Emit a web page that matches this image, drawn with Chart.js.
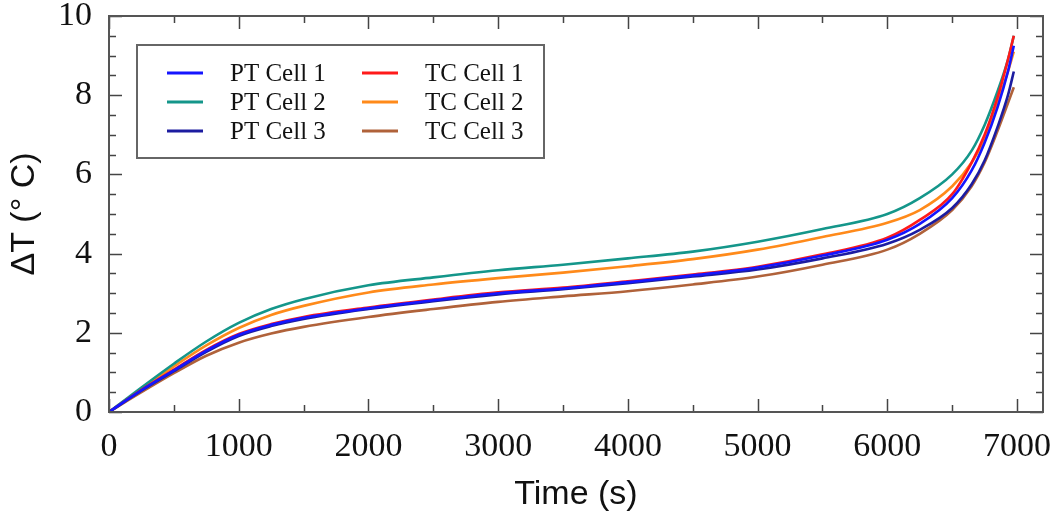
<!DOCTYPE html>
<html>
<head>
<meta charset="utf-8">
<script src="https://cdn.jsdelivr.net/npm/chart.js@4/dist/chart.umd.min.js"></script>
<style>
  html, body { margin: 0; padding: 0; background: #ffffff; }
  #wrap { width: 1059px; height: 513px; }
</style>
</head>
<body>
<div id="wrap"><canvas id="c" width="1059" height="513"></canvas></div>
<script>
// ---- data ----
const times = [0, 250, 500, 750, 1000, 1250, 1500, 2000, 2500, 3000, 3500, 4000, 4500, 5000, 5500, 6000, 6250, 6500, 6650, 6750, 6850, 6930, 6975];
const ptCell1 = [0, 0.55, 1.05, 1.55, 1.95, 2.20, 2.38, 2.62, 2.82, 3.00, 3.12, 3.28, 3.45, 3.65, 3.95, 4.35, 4.75, 5.40, 6.10, 6.80, 7.70, 8.60, 9.25];
const ptCell2 = [0, 0.62, 1.22, 1.78, 2.25, 2.60, 2.85, 3.20, 3.40, 3.58, 3.72, 3.88, 4.05, 4.30, 4.62, 5.00, 5.40, 6.00, 6.60, 7.25, 8.10, 8.90, 9.50];
const ptCell3 = [0, 0.54, 1.03, 1.52, 1.92, 2.17, 2.35, 2.60, 2.80, 2.97, 3.10, 3.25, 3.42, 3.60, 3.88, 4.25, 4.60, 5.15, 5.75, 6.35, 7.20, 8.00, 8.60];
const tcCell1 = [0, 0.56, 1.07, 1.57, 1.97, 2.22, 2.40, 2.64, 2.84, 3.02, 3.14, 3.30, 3.47, 3.67, 3.98, 4.40, 4.85, 5.50, 6.30, 7.00, 7.95, 8.90, 9.50];
const tcCell2 = [0, 0.58, 1.15, 1.68, 2.12, 2.45, 2.68, 3.02, 3.22, 3.38, 3.52, 3.68, 3.86, 4.10, 4.42, 4.78, 5.10, 5.70, 6.30, 6.90, 7.80, 8.60, 9.10];
const tcCell3 = [0, 0.50, 0.98, 1.42, 1.75, 1.98, 2.15, 2.40, 2.60, 2.78, 2.92, 3.05, 3.22, 3.42, 3.72, 4.10, 4.50, 5.10, 5.70, 6.30, 7.10, 7.80, 8.20];

const seriesLabels = ["PT Cell 1", "PT Cell 2", "PT Cell 3", "TC Cell 1", "TC Cell 2", "TC Cell 3"];
const seriesColors = ["#1515ff", "#14968a", "#1c1ca0", "#ff1a1a", "#ff8a1a", "#b0623a"];
const seriesValues = [ptCell1, ptCell2, ptCell3, tcCell1, tcCell2, tcCell3];
const drawOrder = [1, 4, 2, 3, 5, 6];

const xMajorTicks = [0, 1000, 2000, 3000, 4000, 5000, 6000, 7000];
const yMajorTicks = [0, 2, 4, 6, 8, 10];

const xTitle = "Time (s)";
const yTitle = "\u0394T (\u00B0 C)";

// ---- build datasets ----
const datasets = seriesLabels.map((lab, i) => ({
  label: lab,
  data: times.map((t, k) => ({ x: t, y: seriesValues[i][k] })),
  borderColor: seriesColors[i],
  backgroundColor: seriesColors[i],
  borderWidth: 2.6,
  pointRadius: 0,
  fill: false,
  cubicInterpolationMode: 'monotone',
  order: drawOrder[i]
}));

const SERIF = "'Liberation Serif', 'Times New Roman', serif";
const SANS = "'Liberation Sans', Arial, sans-serif";

// frame, inward ticks (major + minor) on all four sides, and boxed legend
const framePlugin = {
  id: 'framePlugin',
  afterDraw(chart) {
    const ctx = chart.ctx;
    const a = chart.chartArea;
    const xs = chart.scales.x, ys = chart.scales.y;
    ctx.save();
    ctx.strokeStyle = '#444';
    ctx.lineWidth = 1.5;
    const MAJ = 13, MIN = 7;
    for (let v = 0; v <= xs.max; v += 500) {
      const px = Math.round(xs.getPixelForValue(v)) + 0.5;
      const len = (v % 1000 === 0) ? MAJ : MIN;
      ctx.beginPath();
      ctx.moveTo(px, a.bottom); ctx.lineTo(px, a.bottom - len);
      ctx.moveTo(px, a.top); ctx.lineTo(px, a.top + len);
      ctx.stroke();
    }
    for (let v = 0; v <= ys.max + 1e-9; v += 0.5) {
      const py = Math.round(ys.getPixelForValue(v)) + 0.5;
      const len = (Math.abs(v % 2) < 1e-9) ? MAJ : MIN;
      ctx.beginPath();
      ctx.moveTo(a.left, py); ctx.lineTo(a.left + len, py);
      ctx.moveTo(a.right, py); ctx.lineTo(a.right - len, py);
      ctx.stroke();
    }
    ctx.strokeStyle = '#555';
    ctx.lineWidth = 2;
    ctx.strokeRect(a.left, a.top, a.right - a.left, a.bottom - a.top);

    // legend box
    const bx = a.left + 28, by = a.top + 29, bw = 407, bh = 113;
    ctx.fillStyle = '#fff';
    ctx.fillRect(bx, by, bw, bh);
    ctx.strokeStyle = '#666';
    ctx.lineWidth = 2;
    ctx.strokeRect(bx, by, bw, bh);
    ctx.font = '25px ' + SERIF;
    ctx.textBaseline = 'middle';
    ctx.textAlign = 'left';
    const ds = chart.data.datasets;
    for (let i = 0; i < ds.length; i++) {
      const col = Math.floor(i / 3), row = i % 3;
      const lx = bx + 30 + col * 195;
      const ly = by + 28 + row * 29;
      ctx.strokeStyle = ds[i].borderColor;
      ctx.lineWidth = 3;
      ctx.beginPath();
      ctx.moveTo(lx, ly); ctx.lineTo(lx + 36, ly);
      ctx.stroke();
      ctx.fillStyle = '#111';
      ctx.fillText(ds[i].label, lx + 63, ly + 1);
    }
    ctx.restore();
  }
};

new Chart(document.getElementById('c'), {
  type: 'line',
  data: { datasets },
  options: {
    responsive: false,
    animation: false,
    devicePixelRatio: 1,
    layout: { padding: { top: 16, right: 16, left: 0, bottom: 0 } },
    plugins: { legend: { display: false }, tooltip: { enabled: false } },
    scales: {
      x: {
        type: 'linear',
        min: 0,
        max: 7200,
        afterBuildTicks: (s) => { s.ticks = xMajorTicks.map(v => ({ value: v })); },
        afterFit: (s) => { s.height = 101; s.paddingLeft = 0; s.paddingRight = 0; },
        grid: { display: false },
        border: { display: false },
        ticks: {
          font: { family: SERIF, size: 34 },
          color: '#111',
          padding: 7,
          maxRotation: 0,
          autoSkip: false,
          callback: (v) => String(v)
        },
        title: {
          display: true,
          text: xTitle,
          font: { family: SANS, size: 34 },
          color: '#111',
          padding: { top: 0, bottom: -2 }
        }
      },
      y: {
        type: 'linear',
        min: 0,
        max: 10,
        afterBuildTicks: (s) => { s.ticks = yMajorTicks.map(v => ({ value: v })); },
        afterFit: (s) => { s.width = 109; s.paddingTop = 0; s.paddingBottom = 0; },
        grid: { display: false },
        border: { display: false },
        ticks: {
          font: { family: SERIF, size: 34 },
          color: '#111',
          padding: 9,
          callback: (v) => String(v)
        },
        title: {
          display: true,
          text: yTitle,
          font: { family: SANS, size: 34 },
          color: '#111',
          padding: { top: 4, bottom: 0 }
        }
      }
    }
  },
  plugins: [framePlugin]
});
</script>
</body>
</html>
